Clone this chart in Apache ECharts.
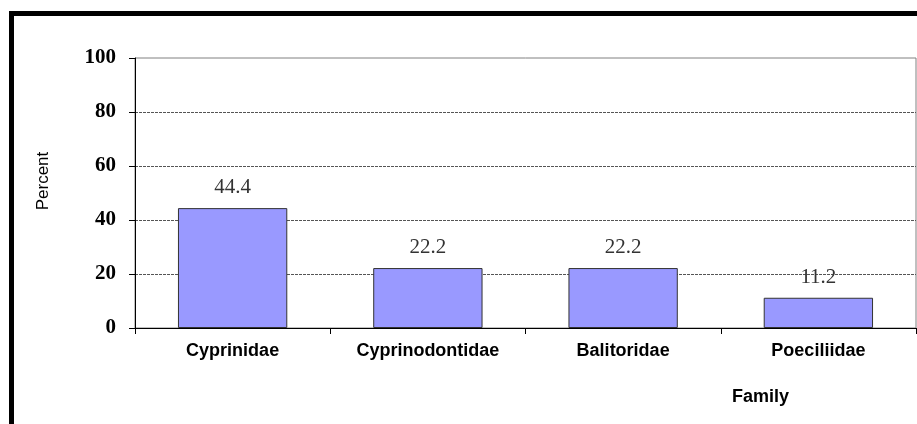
<!DOCTYPE html>
<html>
<head>
<meta charset="utf-8">
<script src="https://cdn.jsdelivr.net/npm/echarts@6/dist/echarts.min.js"></script>
<style>
html,body{margin:0;padding:0;background:#fff;}
#chart{width:917px;height:424px;}
</style>
</head>
<body>
<div id="chart"></div>
<script>
const categories = ['Cyprinidae', 'Cyprinodontidae', 'Balitoridae', 'Poeciliidae'];
const percentValues = [44.4, 22.2, 22.2, 11.2];
const yTicks = [0, 20, 40, 60, 80, 100];

const chart = echarts.init(document.getElementById('chart'), null, {renderer: 'canvas'});
chart.setOption({
  backgroundColor: '#ffffff',
  animation: false,
  grid: {
    left: 135, right: 1, top: 58, bottom: 96,
    show: true, borderColor: '#808080', borderWidth: 1
  },
  xAxis: {
    type: 'category',
    data: categories,
    axisLine: {lineStyle: {color: '#000', width: 1}},
    axisTick: {show: true, length: 6, lineStyle: {color: '#000'}},
    axisLabel: {
      margin: 14, color: '#000', fontFamily: 'Liberation Sans, Arial',
      fontWeight: 'bold', fontSize: 18
    },
    splitLine: {show: false}
  },
  yAxis: {
    type: 'value',
    min: yTicks[0], max: yTicks[yTicks.length - 1], interval: 20,
    axisLine: {show: true, lineStyle: {color: '#000', width: 1}},
    axisTick: {show: true, length: 6, lineStyle: {color: '#000'}},
    axisLabel: {
      margin: 19, color: '#000', fontFamily: 'Liberation Serif, Times New Roman',
      fontWeight: 'bold', fontSize: 21
    },
    splitLine: {
      show: true, showMinLine: false, showMaxLine: false,
      lineStyle: {color: '#555', type: [3, 1], width: 1}
    }
  },
  series: [{
    type: 'bar',
    data: percentValues,
    barWidth: '56%',
    itemStyle: {color: '#9999FF', borderColor: '#333', borderWidth: 1},
    label: {
      show: true, position: 'top', distance: 10,
      color: '#333', fontFamily: 'Liberation Serif, Times New Roman',
      fontSize: 21,
      formatter: p => p.value.toFixed(1)
    }
  }],
  graphic: [
    {
      type: 'rect', silent: true, z: 100,
      shape: {x: 11.5, y: 13.5, width: 1200, height: 800},
      style: {fill: 'none', stroke: '#000', lineWidth: 5}
    },
    {
      type: 'text', x: 43, y: 181, rotation: Math.PI / 2,
      style: {
        text: 'Percent', font: '17px "Liberation Sans", Arial', fill: '#000',
        align: 'center', verticalAlign: 'middle'
      }
    },
    {
      type: 'text', left: 732, top: 388,
      style: {text: 'Family', font: 'bold 18px "Liberation Sans", Arial', fill: '#000'}
    }
  ]
});
</script>
</body>
</html>
